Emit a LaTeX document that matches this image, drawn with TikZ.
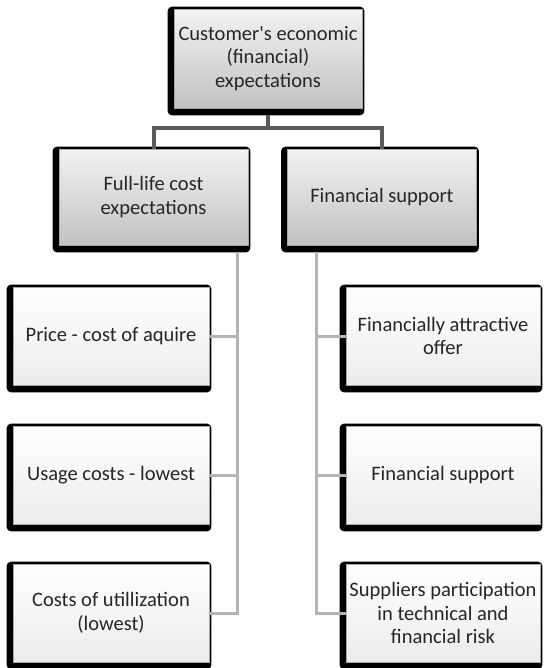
\documentclass[tikz,border=0pt]{standalone}
\usepackage{fontspec}
\setmainfont{Carlito}
\usepackage{tikz}
\usetikzlibrary{
	backgrounds,
	positioning
}

\definecolor{trunkgray}{HTML}{5A5A5A}
\definecolor{branchgray}{HTML}{B4B4B4}
\definecolor{inktext}{HTML}{262626}

\tikzset{
	box/.style={
		rectangle, draw=gray!70, line width=0.4pt, align=center,
		text=inktext, font=\fontsize{15.4}{17.8}\selectfont,
		inner sep=2pt
	},
	upper box/.style={box, top color=gray!10, bottom color=gray!48},
	leaf box/.style={box, top color=white, bottom color=gray!15},
	trunk/.style={draw=trunkgray, line width=3pt},
	branch/.style={draw=branchgray, line width=2.25pt}
}

\begin{document}
\begin{tikzpicture}[x=0.75pt, y=-0.75pt]
		\useasboundingbox (0,0) rectangle (543,668);

		% top of the tree
		\node[upper box, minimum width=141pt, minimum height=74.25pt]
			(root) at (268,58.5) {Customer\textquotesingle s economic\\(financial)\\expectations};

		\node[upper box, minimum width=141.75pt, minimum height=72pt]
			(full) at (153.5,197) {Full-life cost\\expectations};
		\node[upper box, minimum width=141.75pt, minimum height=72pt]
			(fsupp) at (382,197) {Financial support};

		% left column
		\node[leaf box, minimum width=147pt, minimum height=73.5pt]
			(price) at (111,336) {Price - cost of aquire};
		\node[leaf box, minimum width=147pt, minimum height=73.5pt]
			(usage) at (111,475) {Usage costs - lowest};
		\node[leaf box, minimum width=147pt, minimum height=73.5pt]
			(util) at (111,613) {Costs of utillization\\(lowest)};

		% right column
		\node[leaf box, minimum width=145.5pt, minimum height=73.5pt]
			(offer) at (443,336) {Financially attractive\\offer};
		\node[leaf box, minimum width=145.5pt, minimum height=73.5pt]
			(support) at (443,475) {Financial support};
		\node[leaf box, minimum width=145.5pt, minimum height=73.5pt]
			(risk) at (443,613) {Suppliers participation\\in technical and\\financial risk};

		\begin{scope}[on background layer]
			\foreach \n in {root,full,fsupp,price,usage,util,offer,support,risk}
				\fill[black, rounded corners=3pt]
					([shift={(-6,7)}]\n.south west) rectangle ([shift={(2,-2)}]\n.north east);

			\path[trunk] ([yshift=-7*0.75pt]root.south) -- ++(0,13) coordinate (split);
			\path[trunk] (split) -| (full.north);
			\path[trunk] (split) -| (fsupp.north);

			\path[branch] ([xshift=-11*0.75pt,yshift=-7*0.75pt]full.south east) |- (price.east);
			\path[branch] ([xshift=-11*0.75pt,yshift=-7*0.75pt]full.south east) |- (usage.east);
			\path[branch] ([xshift=-11*0.75pt,yshift=-7*0.75pt]full.south east) |- (util.east);

			\path[branch] ([xshift=29*0.75pt,yshift=-7*0.75pt]fsupp.south west) |- (offer.west);
			\path[branch] ([xshift=29*0.75pt,yshift=-7*0.75pt]fsupp.south west) |- (support.west);
			\path[branch] ([xshift=29*0.75pt,yshift=-7*0.75pt]fsupp.south west) |- (risk.west);
		\end{scope}
	\end{tikzpicture}
\end{document}
